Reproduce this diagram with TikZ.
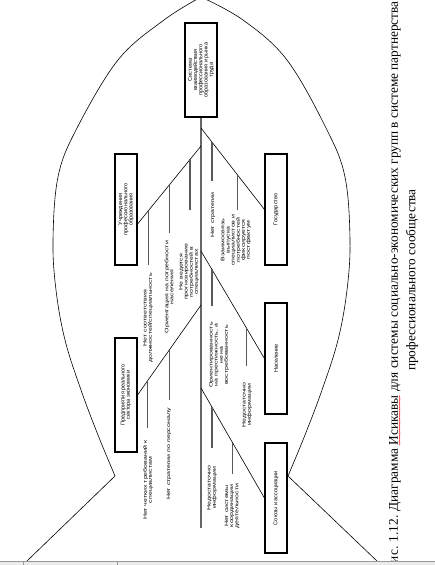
\documentclass[tikz,border=0pt]{standalone}
\usepackage{fontspec}
\setmainfont{Liberation Serif}
\newfontfamily\boxfont{Liberation Sans}
\newcommand\capfont{\fontsize{13.3}{16}\selectfont}
\newlength\capa
\newlength\capb
\usetikzlibrary{decorations.pathmorphing}

\begin{document}
\settowidth\capa{\capfont Рис. 1.12. Диаграмма }
\settowidth\capb{\capfont Исикавы}
\begin{tikzpicture}[x=1pt, y=-1pt,
    box/.style={draw=black, line width=1.1pt, fill=white, rotate=90, align=center,
      minimum width=111pt, minimum height=22pt, inner sep=1pt,
      font=\boxfont\fontsize{5.5}{5.2}\selectfont},
    spine/.style={line width=1.8pt, black!60},
    rib/.style={line width=1.3pt, black!65},
    bone/.style={line width=0.6pt, black},
    lbl/.style={rotate=90, xscale=1.4, align=center, inner sep=0pt,
      font=\boxfont\fontsize{5}{5.1}\selectfont},
    captxt/.style={rotate=90, inner sep=0pt, font=\capfont}]
\clip (0,0) rectangle (435,565);
\fill[white] (0,0) rectangle (435,565);

% fish
\draw[line width=0.6pt] plot[smooth, tension=0.6] coordinates {(115,476) (98,435) (81,390) (65,340) (56,290) (53,240) (58,177) (76,130) (118,60) (164,20) (201,-3)};
\draw[line width=0.6pt] plot[smooth, tension=0.6] coordinates {(201,-3) (243,20) (287,60) (327,130) (345,177) (350,240) (347,290) (338,340) (322,390) (305,435) (288,476)};
\draw[line width=0.6pt] (115,476) -- (27,561);
\draw[line width=0.6pt] (288,476) -- (377,561);

% head and spine
\node[box, minimum width=94pt, minimum height=32pt] (head) at (201,70) {Система\\взаимодействия\\профессионального\\образования и рынка\\труда};
\coordinate (tail) at (201,528);
\draw[spine] (head.west) -- (tail);

\coordinate (j1) at (201,146);
\coordinate (j2) at (201,305);
\coordinate (j3) at (201,128);
\coordinate (j4) at (201,251);
\coordinate (j5) at (201,388);

% boxes
\node[box] (inst) at (126,209.5) {Учреждения\\профессионального\\образования};
\node[box, minimum width=114pt] (ent) at (126,395) {Предприятия реального\\сектора экономики};
\node[box] (gov) at (276,209.5) {Государство};
\node[box] (pop) at (276,358.5) {Население};
\node[box, minimum width=110pt] (uni) at (276,498) {Союзы и ассоциации};

% bones
\draw[bone] (j1) -- ([yshift=-14.5pt]inst.south) coordinate[pos=.172] (r11) coordinate[pos=.5] (r12) coordinate[pos=.828] (r13);
\draw[bone] (j2) -- (ent.south) coordinate[pos=.5] (r21) coordinate[pos=.844] (r22);
\draw[bone] (j3) -- (gov.north) coordinate[pos=.172] (r31) coordinate[pos=.578] (r32);
\draw[bone] (j4) -- (pop.north) coordinate[pos=.172] (r41) coordinate[pos=.719] (r42);
\draw[bone] (j5) -- (uni.north) coordinate[pos=.172] (r51) coordinate[pos=.5] (r52);

\draw[rib] (r11) -- ++(0,51);
\draw[rib] (r12) -- ++(0,48);
\draw[rib] (r13) -- ++(0,54);
\draw[rib] (r21) -- ++(0,50);
\draw[rib] (r22) -- ++(0,47);
\draw[rib] (r31) -- ++(0,39);
\draw[rib] (r32) -- ++(0,35);
\draw[rib] (r41) -- ++(0,37);
\draw[rib] (r42) -- ++(0,38);
\draw[rib] (r51) -- ++(0,41);
\draw[rib] (r52) -- ++(0,31);

% causes
\node[lbl] (t11) at (189,272) {Не ведется\\прогнозирование\\потребностей в\\специалистах};
\node[lbl] (t12) at (169,287) {Ориентация на потребности\\населения};
\node[lbl] (t13) at (148,318) {Нет соответствия\\должностей/специальность};
\node[lbl] (t21) at (169,454) {Нет стратегии по персоналу};
\node[lbl] (t22) at (148,480) {Нет четких требований к\\специалистам};
\node[lbl] (t31) at (213,215) {Нет стратегии};
\node[lbl] (t32) at (236,240) {Взаимосвязь\\выпуска\\специалистов и\\потребностей\\фиксируется\\постфактум};
\node[lbl] (t41) at (219,355) {Ориентированность\\на престижность, а\\не на\\востребованность};
\node[lbl] (t42) at (247,405) {Недостаточно\\информации};
\node[lbl] (t51) at (212,488) {Недостаточно\\информации};
\node[lbl] (t52) at (232,506) {Нет системы\\координации\\деятельности};

% caption
\node[captxt] (cap1) at (395,286) {Рис. 1.12. Диаграмма Исикавы для системы социально-экономических групп в системе партнерства};
\node[captxt] (cap2) at (412,280) {профессионального сообщества};
\draw[red, line width=0.35pt, decorate, decoration={snake, amplitude=0.5pt, segment length=2.2pt}]
  ([xshift=1.6pt, yshift=\capa]cap1.base west) -- ([xshift=1.6pt, yshift={\capa+\capb}]cap1.base west);

% window bar
\fill[black!8] (0,561) rectangle (435,565);
\draw[black!40, line width=0.5pt] (0,561) -- (435,561);
\draw[black!40, line width=0.5pt] (23,561) -- (23,565) (117,561) -- (117,565);
\end{tikzpicture}
\end{document}
